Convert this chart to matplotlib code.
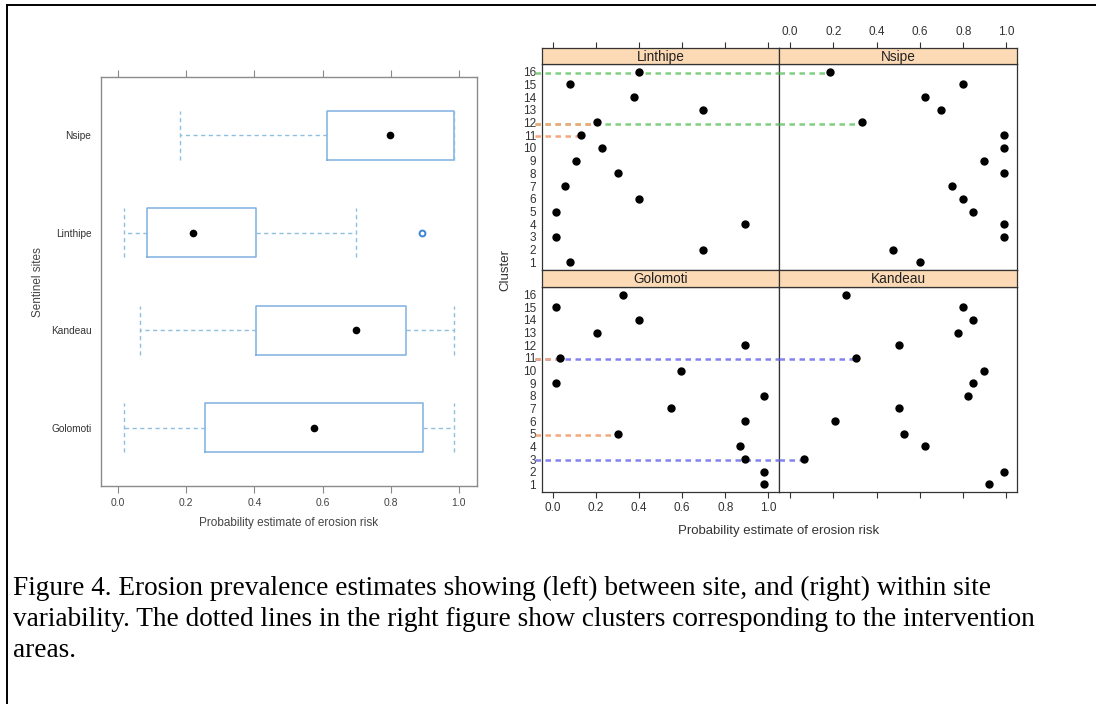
import matplotlib
matplotlib.use("Agg")
import matplotlib.pyplot as plt
from matplotlib.lines import Line2D

W, H = 1096, 704

# between-site summary (box plot), bottom to top
SITES = ["Golomoti", "Kandeau", "Linthipe", "Nsipe"]
BOX_Q1 = [0.256, 0.404, 0.086, 0.613]
BOX_MED = [0.575, 0.698, 0.219, 0.797]
BOX_Q3 = [0.894, 0.846, 0.404, 0.985]
WHISK_LO = [0.017, 0.064, 0.017, 0.183]
WHISK_HI = [0.985, 0.985, 0.698, 0.985]
OUTLIERS = [[], [], [0.892], []]

# within-site estimates per cluster (clusters 1..16)
CLUSTERS = list(range(1, 17))
LINTHIPE = [0.083, 0.697, 0.015, 0.890, 0.015, 0.401, 0.060, 0.302,
            0.108, 0.228, 0.134, 0.204, 0.697, 0.376, 0.083, 0.401]
NSIPE = [0.601, 0.477, 0.988, 0.988, 0.847, 0.797, 0.748, 0.988,
         0.895, 0.988, 0.988, 0.330, 0.698, 0.624, 0.797, 0.184]
GOLOMOTI = [0.981, 0.981, 0.890, 0.866, 0.304, 0.890, 0.549, 0.981,
            0.015, 0.597, 0.035, 0.890, 0.205, 0.401, 0.015, 0.327]
KANDEAU = [0.917, 0.988, 0.062, 0.624, 0.526, 0.208, 0.501, 0.822,
           0.845, 0.895, 0.305, 0.501, 0.774, 0.845, 0.797, 0.257]

# intervention-area clusters: (site, cluster, colour)
GREEN, ORANGE, BLUE = "#80cf80", "#f4a77a", "#8282f0"
INTERVENTION = [
    ("Nsipe", 16, GREEN), ("Nsipe", 12, GREEN),
    ("Linthipe", 12, ORANGE), ("Linthipe", 11, ORANGE),
    ("Kandeau", 11, BLUE), ("Kandeau", 3, BLUE),
    ("Golomoti", 11, ORANGE), ("Golomoti", 5, ORANGE),
]

CAPTION = [
    "Figure 4. Erosion prevalence estimates showing (left) between site, and (right) within site",
    "variability. The dotted lines in the right figure show clusters corresponding to the intervention",
    "areas.",
]

SANS = "Liberation Sans"
BOX_EDGE = "#7fb2e0"
WHISK = "#8cbfe0"
SPINE_L = "#8a8a8a"
STRIP = "#fcdab6"
XT = [0.0, 0.2, 0.4, 0.6, 0.8, 1.0]


def rect(x0, y0, x1, y1):
    return [x0 / W, 1 - y1 / H, (x1 - x0) / W, (y1 - y0) / H]


fig = plt.figure(figsize=(W / 100, H / 100), dpi=100)
fig.patch.set_facecolor("white")

# ── left: box plot by site ─────────────────────────────────────────────
ax = fig.add_axes(rect(101, 77, 477, 486))
pos = list(range(1, len(SITES) + 1))
stats = [dict(med=m, q1=a, q3=b, whislo=lo, whishi=hi, fliers=f)
         for m, a, b, lo, hi, f in zip(BOX_MED, BOX_Q1, BOX_Q3,
                                       WHISK_LO, WHISK_HI, OUTLIERS)]
ax.bxp(stats, positions=pos, widths=0.5, capwidths=0.5,
       orientation="horizontal", showfliers=True,
       boxprops=dict(color=BOX_EDGE, lw=1.1),
       whiskerprops=dict(color=WHISK, lw=1.0, ls=(0, (3, 2.5))),
       capprops=dict(color=WHISK, lw=1.0, ls=(0, (3, 2.5))),
       medianprops=dict(visible=False),
       flierprops=dict(marker="o", mfc="none", mec="#3a86d8", ms=4.2, mew=1.4))
ax.plot(BOX_MED, pos, "o", color="black", ms=4.5, zorder=4)
ax.set_xlim(-0.05, 1.053)
ax.set_ylim(0.4, 4.6)
ax.set_xticks(XT, [f"{v:.1f}" for v in XT])
ax.set_yticks(pos, SITES)
for s in ax.spines.values():
    s.set_color(SPINE_L)
    s.set_linewidth(1.0)
ax.tick_params(axis="x", top=True, bottom=True, direction="out", length=5,
               color=SPINE_L, labelcolor="#444444", labelsize=7.5, pad=4)
ax.tick_params(axis="y", length=0, labelcolor="#333333", labelsize=7.3, pad=7)
for lab in ax.get_xticklabels() + ax.get_yticklabels():
    lab.set_family(SANS)
fig.text(289 / W, 1 - 523 / H, "Probability estimate of erosion risk",
         ha="center", va="center", fontsize=8.5, color="#444444", family=SANS)
fig.text(38 / W, 1 - 282 / H, "Sentinel sites", rotation=90,
         ha="center", va="center", fontsize=8.5, color="#444444", family=SANS)

# ── right: dot plot of clusters within each site ───────────────────────
SITE_VALUES = {"Linthipe": LINTHIPE, "Nsipe": NSIPE,
               "Golomoti": GOLOMOTI, "Kandeau": KANDEAU}
COLS = [(541.7, 779.3), (779.3, 1017.3)]
ROWS = [((48, 64), (64, 270)), ((270, 287), (287, 492))]
LAYOUT = {"Linthipe": (0, 0), "Nsipe": (0, 1),
          "Golomoti": (1, 0), "Kandeau": (1, 1)}
XL = (-0.05, 1.05)
XT_LABELS = [f"{v:.1f}" for v in XT]


def style_x(a, top, labels):
    a.set_xlim(*XL)
    a.set_xticks(XT, XT_LABELS)
    a.tick_params(axis="x", direction="out", length=4.5, color="#333333",
                  top=top, bottom=not top,
                  labeltop=top and labels, labelbottom=(not top) and labels,
                  labelsize=8.5, labelcolor="#333333", pad=3)
    for lab in a.get_xticklabels():
        lab.set_family(SANS)


axes = {}
for site, (r, c) in LAYOUT.items():
    (sy0, sy1), (py0, py1) = ROWS[r]
    x0, x1 = COLS[c]
    a = fig.add_axes(rect(x0, py0, x1, py1))
    a.set_ylim(0.4, 16.6)
    a.plot(SITE_VALUES[site], CLUSTERS, "o", color="black", ms=5.0, zorder=5)
    for sp in a.spines.values():
        sp.set_color("#333333")
        sp.set_linewidth(0.9)
    a.set_yticks(CLUSTERS, [str(v) for v in CLUSTERS])
    a.tick_params(axis="y", length=0, labelleft=c == 0, labelsize=8.5,
                  labelcolor="#333333", pad=4)
    for lab in a.get_yticklabels():
        lab.set_family(SANS)

    # strip with site name
    s = fig.add_axes(rect(x0, sy0, x1, sy1))
    s.set_facecolor(STRIP)
    s.set_yticks([])
    for sp in s.spines.values():
        sp.set_color("#333333")
        sp.set_linewidth(0.9)
    s.text(0.5, 0.45, site, ha="center", va="center", fontsize=9.8,
           color="#222222", family=SANS, transform=s.transAxes)

    if r == 0:
        # top row: ticks sit above the strip
        style_x(s, top=True, labels=c == 1)
        a.set_xlim(*XL)
        a.set_xticks([])
    else:
        style_x(a, top=False, labels=c == 0)
        s.set_xticks([])
    axes[site] = a

# intervention clusters: dashed line from the row's left edge to the dot
LEFT_OF = {"Nsipe": "Linthipe", "Kandeau": "Golomoti"}
for site, cl, col in INTERVENTION:
    y = cl - 0.1
    xv = SITE_VALUES[site][cl - 1]
    kw = dict(color=col, lw=1.8, ls=(0, (2.2, 1.8)), zorder=3,
              dash_capstyle="butt")
    a = axes[site]
    if site in LEFT_OF:
        left = axes[LEFT_OF[site]]
        left.plot([-0.08, XL[1]], [y, y], clip_on=False, **kw)
        a.plot([XL[0], xv], [y, y], **kw)
    else:
        a.plot([-0.08, xv], [y, y], clip_on=False, **kw)

fig.text(505 / W, 1 - 270 / H, "Cluster", rotation=90, ha="center",
         va="center", fontsize=9.5, color="#333333", family=SANS)
fig.text(779 / W, 1 - 531 / H, "Probability estimate of erosion risk",
         ha="center", va="center", fontsize=9.5, color="#333333", family=SANS)

# ── caption and frame ──────────────────────────────────────────────────
for i, line in enumerate(CAPTION):
    fig.text(13 / W, 1 - (595 + 31 * i) / H, line, ha="left",
             va="baseline", fontsize=19.6, family="Liberation Serif",
             color="black")

fig.add_artist(Line2D([7 / W, 7 / W], [0, 1 - 5 / H], color="black",
                      lw=1.4, transform=fig.transFigure))
fig.add_artist(Line2D([7 / W, 1], [1 - 5 / H, 1 - 5 / H], color="black",
                      lw=1.4, transform=fig.transFigure))

fig.savefig("out.png", dpi=100, facecolor="white")
